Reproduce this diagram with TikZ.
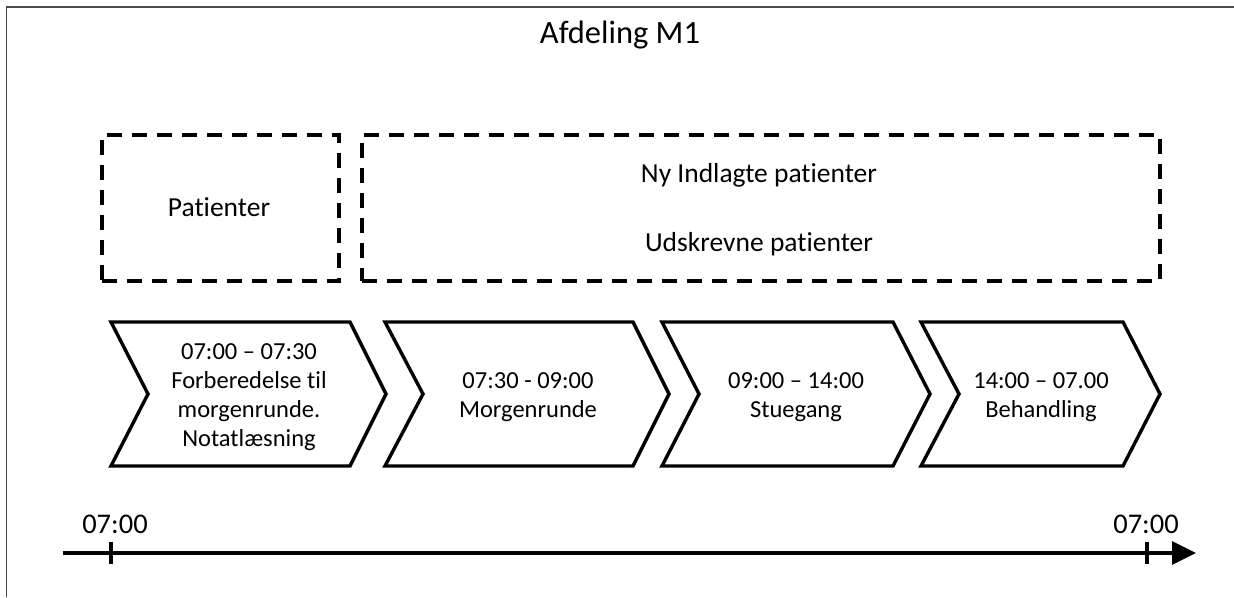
\documentclass[tikz,border=0pt]{standalone}
\usepackage{fontspec}
\setmainfont{Carlito}[Ligatures=NoCommon]
\usetikzlibrary{arrows.meta}
\begin{document}
\begin{tikzpicture}[x=1pt,y=-1pt,
  frameline/.style={draw=black!70, line width=1.5pt},
  zone/.style={draw, line width=3.5pt, dash pattern=on 15pt off 10pt,
    minimum width=#1, minimum height=146pt, inner sep=0pt, anchor=north west},
  zonetext/.style={font=\fontsize{27.5}{33}\selectfont, anchor=base},
  chev/.style={draw, line width=3.4pt, line join=miter},
  stagetext/.style={align=center, font=\fontsize{24.5}{29}\selectfont},
  axis/.style={line width=3.2pt},
  tickmark/.style={line width=3.2pt},
  timelbl/.style={font=\fontsize{28.5}{34}\selectfont, anchor=base},
]
\useasboundingbox (0,0) rectangle (1234,597);

% outer frame (left and top edges)
\draw[frameline] (6.5,597) -- (6.5,7) -- (1234,7);

% title
\node[font=\fontsize{32.5}{39}\selectfont, anchor=base] (title) at (620,43) {Afdeling M1};

% dashed groups
\node[zone=237pt] (pat) at (100,133) {};
\node[zone=798pt] (adm) at (360,133) {};
\node[zonetext] (patlbl) at (219,216) {Patienter};
\node[zonetext] (nylbl) at (759,182) {Ny Indlagte patienter};
\node[zonetext] (udlbl) at (759,251) {Udskrevne patienter};

% process stages
\draw[chev] (111,322) -- (350,322) -- (386,394) -- (350,466) -- (111,466) -- (148,394) -- cycle;
\node[stagetext] (s1) at (249,397) {07:00 – 07:30\\Forberedelse til\\morgenrunde.\\Notatlæsning};

\draw[chev] (385,322) -- (633,322) -- (669,394) -- (633,466) -- (385,466) -- (423,394) -- cycle;
\node[stagetext] (s2) at (528,397) {07:30 - 09:00\\Morgenrunde};

\draw[chev] (662,322) -- (893,322) -- (930,394) -- (893,466) -- (662,466) -- (699,394) -- cycle;
\node[stagetext] (s3) at (796,397) {09:00 – 14:00\\Stuegang};

\draw[chev] (921,322) -- (1123,322) -- (1160,394) -- (1123,466) -- (921,466) -- (959,394) -- cycle;
\node[stagetext] (s4) at (1041,397) {14:00 – 07.00\\Behandling};

% time axis
\coordinate (tstart) at (63,553);
\coordinate (tend) at (1196,553);
\draw[axis, -{Triangle[length=24pt,width=23pt]}] (tstart) -- (tend);
\coordinate (t0top) at (111,542);
\coordinate (t0bot) at (111,564);
\coordinate (t1top) at (1147,542);
\coordinate (t1bot) at (1147,564);
\draw[tickmark] (t0top) -- (t0bot);
\draw[tickmark] (t1top) -- (t1bot);
\node[timelbl] (l0) at (115,533) {07:00};
\node[timelbl] (l1) at (1146,533) {07:00};
\end{tikzpicture}
\end{document}
